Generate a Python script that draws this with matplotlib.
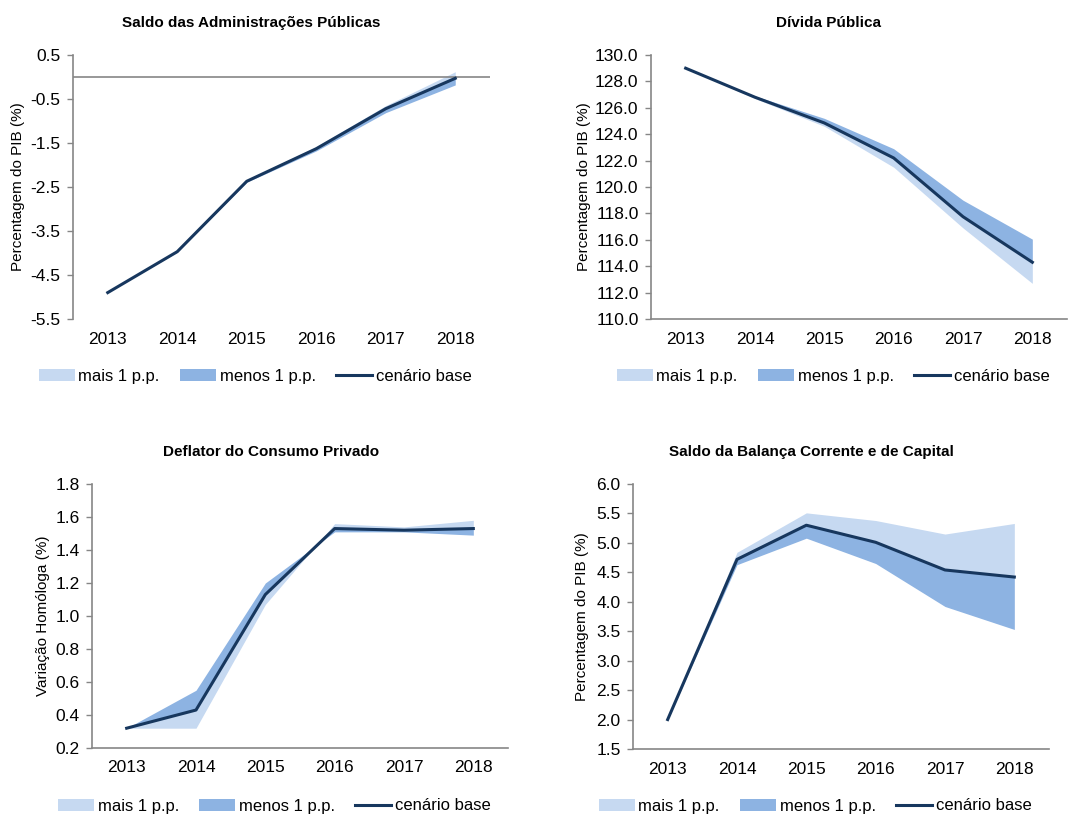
import numpy as np
import matplotlib
matplotlib.use('Agg')
from matplotlib import pyplot as plt
from matplotlib.patches import Patch
from matplotlib.lines import Line2D

plt.rcParams['font.family'] = ['Liberation Sans', 'DejaVu Sans']

years = ['2013', '2014', '2015', '2016', '2017', '2018']

# Saldo das Administrações Públicas (% PIB)
saldo_base = [-4.9, -3.97, -2.37, -1.63, -0.72, -0.03]
saldo_mais = [-4.9, -3.96, -2.34, -1.58, -0.65, 0.12]
saldo_menos = [-4.9, -3.98, -2.39, -1.68, -0.81, -0.18]

# Dívida Pública (% PIB)
divida_base = [129.0, 126.8, 124.85, 122.2, 117.75, 114.3]
divida_mais = [129.0, 126.7, 124.6, 121.5, 116.9, 112.7]
divida_menos = [129.0, 126.9, 125.2, 122.9, 119.0, 116.05]

# Deflator do Consumo Privado (variação homóloga)
deflator_base = [0.32, 0.43, 1.13, 1.53, 1.52, 1.53]
deflator_mais = [0.32, 0.32, 1.07, 1.56, 1.54, 1.58]
deflator_menos = [0.32, 0.55, 1.20, 1.51, 1.51, 1.49]

# Saldo da Balança Corrente e de Capital (% PIB)
balanca_base = [2.0, 4.72, 5.30, 5.01, 4.54, 4.42]
balanca_mais = [2.0, 4.84, 5.51, 5.38, 5.15, 5.33]
balanca_menos = [2.0, 4.63, 5.08, 4.65, 3.92, 3.53]

legend_labels = ['mais 1 p.p.', 'menos 1 p.p.', 'cenário base']

LIGHT = '#c6d9f1'
DARK = '#8db3e2'
NAVY = '#17375e'
GREY = '#868686'

W, H = 1068, 814
fig = plt.figure(figsize=(W / 100, H / 100), dpi=100, facecolor='white')


def px_axes(left, right, top, bottom):
    return fig.add_axes([left / W, 1 - bottom / H, (right - left) / W, (bottom - top) / H])


def draw_panel(box, base, mais, menos, yticks, title, title_xy, ylabel, ylabel_x,
               legend_xy, zero_line=False):
    ax = px_axes(*box)
    x = np.arange(len(years))
    ax.fill_between(x, base, mais, color=LIGHT, linewidth=0)
    ax.fill_between(x, base, menos, color=DARK, linewidth=0)
    ax.plot(x, base, color=NAVY, lw=2.2, solid_joinstyle='round')

    ax.set_xlim(-0.5, len(years) - 0.5)
    ax.set_ylim(yticks[0], yticks[-1])
    ax.set_xticks(x)
    ax.set_xticklabels(years)
    ax.set_yticks(yticks)
    ax.set_yticklabels([f'{v:.1f}' for v in yticks])

    for s in ['top', 'right']:
        ax.spines[s].set_visible(False)
    ax.spines['left'].set_color(GREY)
    ax.spines['left'].set_linewidth(1.2)
    ax.spines['bottom'].set_color(GREY)
    ax.spines['bottom'].set_linewidth(1.2)
    if zero_line:
        ax.spines['bottom'].set_visible(False)
        ax.axhline(0, color=GREY, lw=1.2, zorder=1)

    ax.tick_params(axis='y', length=4, width=1, color=GREY, pad=5, labelsize=12.5)
    ax.tick_params(axis='x', length=0, pad=9, labelsize=12.5)

    fig.text(title_xy[0] / W, 1 - title_xy[1] / H, title, ha='center', va='center',
             fontsize=11, fontweight='bold')
    box_mid = (box[2] + box[3]) / 2
    fig.text(ylabel_x / W, 1 - box_mid / H, ylabel, rotation=90, ha='center',
             va='center', fontsize=11)

    handles = [Patch(facecolor=LIGHT, edgecolor='none'),
               Patch(facecolor=DARK, edgecolor='none'),
               Line2D([0], [0], color=NAVY, lw=2.2)]
    ax.legend(handles, legend_labels, loc='center', ncol=3, frameon=False,
              bbox_to_anchor=(legend_xy[0] / W, 1 - legend_xy[1] / H),
              bbox_transform=fig.transFigure, fontsize=12, handlelength=2.2,
              handletextpad=0.2, columnspacing=1.2, borderpad=0)
    return ax


draw_panel((73, 490, 55, 319), saldo_base, saldo_mais, saldo_menos,
           np.arange(-5.5, 0.51, 1.0), 'Saldo das Administrações Públicas', (251, 23),
           'Percentagem do PIB (%)', 18, (255, 376), zero_line=True)

draw_panel((651, 1067, 55, 319), divida_base, divida_mais, divida_menos,
           np.arange(110.0, 130.01, 2.0), 'Dívida Pública', (829, 23),
           'Percentagem do PIB (%)', 584, (833, 376))

draw_panel((92, 508, 484, 748), deflator_base, deflator_mais, deflator_menos,
           np.arange(0.2, 1.801, 0.2), 'Deflator do Consumo Privado', (271, 452),
           'Variação Homóloga (%)', 43, (274, 806))

draw_panel((633, 1049, 484, 749), balanca_base, balanca_mais, balanca_menos,
           np.arange(1.5, 6.01, 0.5), 'Saldo da Balança Corrente e de Capital', (811, 452),
           'Percentagem do PIB (%)', 582, (815, 806))

fig.savefig('out.png', dpi=100, facecolor='white')
